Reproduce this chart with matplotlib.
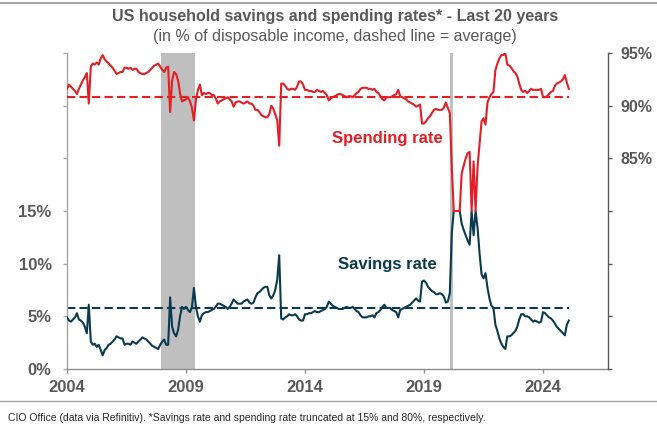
import numpy as np
import matplotlib
matplotlib.use("Agg")
import matplotlib.pyplot as plt

plt.rcParams['font.family'] = ['Liberation Sans', 'DejaVu Sans']

# Monthly data, Jan 2004 .. Feb 2025 (in % of disposable income)
start_year = 2004
savings_rate = [
    4.9, 4.6, 4.5, 4.7, 4.9, 5.3, 4.7, 4.6, 4.4, 4.0, 3.4, 6.1,   # 2004
    2.6, 2.3, 2.4, 2.1, 2.3, 1.8, 1.3, 1.8, 2.0, 2.3, 2.4, 2.6,   # 2005
    2.8, 3.1, 3.0, 2.9, 2.9, 2.3, 2.4, 2.4, 2.3, 2.6, 2.5, 2.4,   # 2006
    2.6, 2.8, 3.0, 2.9, 2.8, 2.6, 2.4, 2.2, 2.1, 2.0, 1.9, 2.3,   # 2007
    2.6, 2.8, 2.3, 2.3, 6.8, 4.0, 3.4, 3.1, 3.7, 5.0, 5.9, 5.7,   # 2008
    5.9, 5.6, 5.4, 5.9, 7.7, 5.9, 5.0, 4.5, 5.1, 5.3, 5.4, 5.4,   # 2009
    5.5, 5.6, 5.7, 5.9, 6.2, 6.2, 6.1, 6.0, 5.9, 5.7, 5.9, 6.2,   # 2010
    6.6, 6.4, 6.2, 6.2, 6.2, 6.4, 6.5, 6.6, 6.3, 6.2, 6.3, 6.8,   # 2011
    7.2, 7.3, 7.5, 7.7, 7.8, 7.8, 7.0, 6.7, 7.0, 7.5, 8.5, 10.8,  # 2012
    4.8, 4.7, 4.9, 5.0, 5.2, 5.1, 5.1, 5.2, 5.0, 4.7, 4.6, 4.6,   # 2013
    5.2, 5.2, 5.3, 5.3, 5.4, 5.5, 5.4, 5.4, 5.5, 5.6, 5.7, 5.9,   # 2014
    6.4, 6.2, 6.0, 5.9, 5.8, 5.7, 5.7, 5.7, 5.8, 5.9, 5.8, 5.8,   # 2015
    5.9, 5.7, 5.5, 5.4, 5.1, 4.9, 4.9, 4.9, 5.0, 5.0, 5.1, 4.9,   # 2016
    5.3, 5.4, 5.6, 5.9, 6.1, 5.8, 5.8, 5.8, 5.6, 5.5, 5.4, 4.9,   # 2017
    5.6, 5.7, 5.8, 5.9, 6.0, 6.1, 6.3, 6.5, 6.7, 6.5, 6.4, 8.3,   # 2018
    8.4, 8.2, 7.8, 7.6, 7.4, 7.3, 7.1, 7.1, 7.2, 7.1, 6.9, 6.3,   # 2019
    6.4, 7.2, 12.9, 15.0, 15.0, 15.0, 15.0, 13.8, 13.2, 12.7, 12.2, 11.8,  # 2020
    15.0, 12.7, 15.0, 13.4, 11.0, 9.0, 8.6, 9.1, 7.7, 6.7, 6.0, 5.8,       # 2021
    4.2, 3.6, 2.9, 2.4, 2.1, 1.9, 3.1, 3.1, 3.2, 3.4, 3.6, 4.0,   # 2022
    4.7, 5.2, 5.2, 5.0, 5.0, 4.9, 4.7, 4.5, 4.6, 4.5, 4.4, 4.5,   # 2023
    5.4, 5.3, 5.1, 4.9, 4.8, 4.6, 4.3, 4.0, 3.8, 3.6, 3.4, 3.2,   # 2024
    4.2, 4.6,                                                     # 2025
]
spending_rate = [
    91.6, 92.0, 91.8, 91.6, 91.4, 91.1, 91.6, 92.0, 92.4, 92.7, 93.1, 90.2,  # 2004
    93.7, 94.0, 93.9, 94.1, 93.9, 94.5, 94.8, 94.4, 94.2, 94.0, 93.8, 93.6,  # 2005
    93.3, 93.0, 93.1, 93.2, 93.2, 93.6, 93.6, 93.5, 93.6, 93.4, 93.5, 93.5,  # 2006
    93.2, 93.1, 93.0, 93.0, 93.1, 93.2, 93.4, 93.6, 93.8, 93.9, 94.0, 93.7,  # 2007
    93.4, 93.2, 93.6, 93.7, 89.4, 92.4, 93.2, 93.0, 92.4, 91.2, 90.4, 90.5,  # 2008
    90.6, 90.8, 90.4, 89.8, 88.6, 90.6, 91.5, 92.0, 91.0, 91.2, 91.1, 91.2,  # 2009
    91.2, 91.0, 91.0, 90.7, 90.2, 90.4, 90.5, 90.6, 90.7, 90.8, 90.6, 90.4,  # 2010
    89.9, 90.3, 90.4, 90.4, 90.3, 90.2, 90.3, 90.4, 90.2, 90.2, 90.0, 89.6,  # 2011
    89.6, 89.4, 89.1, 89.0, 88.9, 88.9, 89.2, 90.0, 89.7, 89.2, 88.6, 86.2,  # 2012
    92.1, 92.1, 91.9, 91.6, 91.5, 91.6, 91.6, 91.5, 91.8, 92.3, 92.3, 92.0,  # 2013
    91.5, 91.5, 91.4, 91.4, 91.3, 91.3, 91.5, 91.4, 91.3, 91.4, 91.2, 91.0,  # 2014
    90.5, 90.7, 90.8, 90.9, 91.0, 91.1, 91.1, 91.0, 90.9, 90.8, 90.9, 90.9,  # 2015
    90.8, 91.0, 91.2, 91.3, 91.6, 91.7, 91.7, 91.7, 91.6, 91.6, 91.5, 91.6,  # 2016
    91.3, 91.2, 90.9, 90.6, 90.5, 90.8, 90.8, 90.8, 90.9, 91.0, 91.1, 91.5,  # 2017
    90.9, 90.8, 90.7, 90.6, 90.4, 90.3, 90.2, 90.1, 89.9, 90.0, 90.1, 88.3,  # 2018
    88.3, 88.5, 88.8, 89.0, 89.3, 89.6, 89.7, 89.6, 89.6, 89.6, 89.8, 90.3,  # 2019
    89.8, 89.3, 84.2, 80.0, 80.0, 80.0, 80.0, 83.6, 84.3, 85.0, 85.5, 85.6,  # 2020
    80.0, 84.7, 80.0, 84.2, 86.3, 88.5, 88.8, 88.2, 90.3, 90.8, 91.1, 91.3,  # 2021
    93.4, 94.0, 94.5, 94.8, 94.8, 95.0, 93.9, 93.8, 93.6, 93.3, 93.1, 92.8,  # 2022
    92.1, 91.5, 91.3, 91.4, 91.2, 91.4, 91.6, 91.5, 91.5, 91.5, 91.5, 91.6,  # 2023
    90.8, 90.8, 90.9, 91.1, 91.3, 91.4, 91.9, 92.1, 92.2, 92.3, 92.5, 92.9,  # 2024
    92.2, 91.6,                                                              # 2025
]
savings_avg = 5.8
spending_avg = 90.8
recessions = [(2007.94, 2009.38), (2020.08, 2020.23)]
year_ticks = [2004, 2009, 2014, 2019, 2024]
left_ticks = [0, 5, 10, 15, 20, 25, 30]
left_labels = ['0%', '5%', '10%', '15%', '', '', '']
right_ticks = [65, 70, 75, 80, 85, 90, 95]
right_labels = ['', '', '', '', '85%', '90%', '95%']

RED = '#e31e24'
NAVY = '#0b3a50'
GREY_TXT = '#595959'

W, H = 657, 425
fig = plt.figure(figsize=(W / 100, H / 100), dpi=100)
ax = fig.add_axes([67 / W, 1 - 369 / H, (608 - 67) / W, (369 - 53) / H])
ax2 = ax.twinx()

x = start_year + np.arange(len(savings_rate)) / 12.0

for a, b in recessions:
    ax.axvspan(a, b, color='#bfbfbf', lw=0, zorder=0)

ax.plot(x, savings_rate, color=NAVY, lw=1.5, zorder=3)
ax.plot([x[0], x[-1]], [savings_avg, savings_avg], color=NAVY, lw=1.5,
        dashes=(4, 2), zorder=2)
ax2.plot(x, spending_rate, color=RED, lw=1.5, zorder=3)
ax2.plot([x[0], x[-1]], [spending_avg, spending_avg], color=RED, lw=1.5,
         dashes=(4, 2), zorder=2)

ax.set_xlim(2004.0, 2026.73)
ax.set_ylim(0, 30)
ax2.set_ylim(65, 95)

ax.set_xticks(year_ticks)
ax.set_xticklabels([str(y) for y in year_ticks])
ax.set_yticks(left_ticks)
ax.set_yticklabels(left_labels)
ax2.set_yticks(right_ticks)
ax2.set_yticklabels(right_labels)

for a in (ax, ax2):
    a.spines['top'].set_visible(False)
ax.spines['right'].set_visible(False)
ax.spines['left'].set_color('#a6a6a6')
ax.spines['bottom'].set_color('#8c8c8c')
ax2.spines['left'].set_visible(False)
ax2.spines['bottom'].set_visible(False)
ax2.spines['right'].set_color('#595959')
for a in (ax, ax2):
    for s in a.spines.values():
        s.set_linewidth(1.0)

ax.tick_params(axis='x', direction='out', length=3, width=1, color='#8c8c8c',
               pad=5, labelsize=12, labelcolor=GREY_TXT)
ax.tick_params(axis='y', direction='out', length=3, width=1, color='#a6a6a6',
               pad=8, labelsize=12, labelcolor=GREY_TXT)
ax2.tick_params(axis='y', direction='out', length=3, width=1, color='#595959',
                pad=6, labelsize=11.5, labelcolor=GREY_TXT)
for lab in ax.get_xticklabels() + ax.get_yticklabels() + ax2.get_yticklabels():
    lab.set_fontweight('bold')

ax.text(0.593, 0.728, 'Spending rate', transform=ax.transAxes, color=RED,
        fontsize=12, fontweight='bold', ha='center', va='center', zorder=5)
ax.text(0.593, 0.332, 'Savings rate', transform=ax.transAxes, color=NAVY,
        fontsize=12, fontweight='bold', ha='center', va='center', zorder=5)

fig.text(335 / W, 1 - 17 / H, 'US household savings and spending rates* - Last 20 years',
         ha='center', va='center', fontsize=11.5, fontweight='bold', color=GREY_TXT)
fig.text(335 / W, 1 - 36 / H, '(in % of disposable income, dashed line = average)',
         ha='center', va='center', fontsize=11.5, color=GREY_TXT)
fig.text(8 / W, 1 - 418 / H,
         'CIO Office (data via Refinitiv). *Savings rate and spending rate truncated at 15% and 80%, respectively.',
         ha='left', va='center', fontsize=7.5, color='#262626')

fig.add_artist(plt.Line2D([0, 1], [1 - 3 / H, 1 - 3 / H], transform=fig.transFigure,
                          color='#a6a6a6', lw=1.5))
fig.add_artist(plt.Line2D([0, 1], [1 - 401 / H, 1 - 401 / H], transform=fig.transFigure,
                          color='#a6a6a6', lw=1.0))

fig.savefig('out.png', dpi=100)
